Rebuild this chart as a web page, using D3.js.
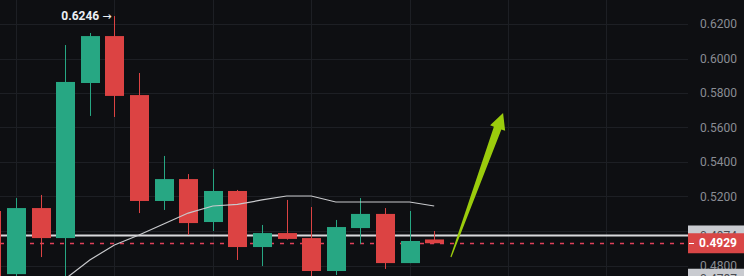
<!DOCTYPE html>
<html>
<head>
<meta charset="utf-8">
<script src="https://cdn.jsdelivr.net/npm/d3@7"></script>
<style>
  html, body { margin: 0; padding: 0; background: #0e0f12; overflow: hidden; }
  text { font-family: Roboto, "Noto Sans", sans-serif; }
</style>
</head>
<body>
<div id="chart"></div>
<script>
// candle data (index 0 is cut off at the left edge)
var idx    = [0, 1, 2, 3, 4, 5, 6, 7, 8, 9, 10, 11, 12, 13, 14, 15, 16, 17, 18]
var opens  = [0.5116, 0.4750, 0.5133, 0.4959, 0.5858, 0.6130, 0.5788, 0.5174, 0.5301, 0.5052, 0.5232, 0.4907, 0.4988, 0.4959, 0.4768, 0.5017, 0.5099, 0.4814, 0.4951]
var highs  = [0.5120, 0.5191, 0.5209, 0.6078, 0.6148, 0.6246, 0.5916, 0.5435, 0.5330, 0.5359, 0.5238, 0.5035, 0.5180, 0.5139, 0.5064, 0.5191, 0.5133, 0.5116, 0.5000]
var lows   = [0.4650, 0.4700, 0.4849, 0.4700, 0.5667, 0.5661, 0.5104, 0.5122, 0.4977, 0.5000, 0.4832, 0.4797, 0.4950, 0.4700, 0.4745, 0.4925, 0.4780, 0.4814, 0.4929]
var closes = [0.4700, 0.5133, 0.4959, 0.5864, 0.6130, 0.5783, 0.5174, 0.5301, 0.5046, 0.5232, 0.4907, 0.4988, 0.4954, 0.4768, 0.5023, 0.5099, 0.4814, 0.4942, 0.4929]

// moving average line, starting at candle 3
var maIdx    = [3, 4, 5, 6, 7, 8, 9, 10, 11, 12, 13, 14, 15, 16, 17, 18]
var maValues = [0.4722, 0.4832, 0.4919, 0.4977, 0.5041, 0.5104, 0.5145, 0.5154, 0.5180, 0.5203, 0.5203, 0.5168, 0.5168, 0.5168, 0.5168, 0.5145]

var yTicks = [0.62, 0.60, 0.58, 0.56, 0.54, 0.52, 0.50, 0.48]
var xGrid = [1, 5, 9, 13, 17, 21, 25]

var lastPrice = 0.4929
var lineLevel = 0.4974
var lowLabel = 0.4787
var highLabel = 0.6246

// hand-drawn arrow: tail and tip in (index, price)
var arrowTail = [18.68, 0.4849]
var arrowTip = [20.8, 0.5684]

var W = 744, H = 276, plotW = 688

var svg = d3.select("#chart")
  .append("svg")
    .attr("width", W)
    .attr("height", H)

svg.append("rect").attr("width", W).attr("height", H).attr("fill", "#0e0f12")

var x = d3.scaleLinear().domain([0, 28]).range([-8.6, 680.2])
var y = d3.scaleLinear().domain([0.48, 0.62]).range([265.5, 24])

svg.append("clipPath").attr("id", "plot")
  .append("rect").attr("width", plotW).attr("height", H)

var plot = svg.append("g").attr("clip-path", "url(#plot)")

// grid
plot.selectAll(".hg").data(yTicks).enter().append("line")
  .attr("x1", 0).attr("x2", plotW)
  .attr("y1", function(d) { return Math.round(y(d)) + 0.5 })
  .attr("y2", function(d) { return Math.round(y(d)) + 0.5 })
  .attr("stroke", "#1d1f24").attr("stroke-width", 1)
plot.selectAll(".vg").data(xGrid).enter().append("line")
  .attr("y1", 0).attr("y2", H)
  .attr("x1", function(d) { return Math.round(x(d)) + 0.5 })
  .attr("x2", function(d) { return Math.round(x(d)) + 0.5 })
  .attr("stroke", "#1d1f24").attr("stroke-width", 1)

// price lines
plot.append("line")
  .attr("x1", 0).attr("x2", plotW)
  .attr("y1", y(lineLevel)).attr("y2", y(lineLevel))
  .attr("stroke", "#d9d9dc").attr("stroke-width", 2.2)
plot.append("line")
  .attr("x1", 0).attr("x2", plotW)
  .attr("y1", Math.round(y(lastPrice)) + 0.5).attr("y2", Math.round(y(lastPrice)) + 0.5)
  .attr("stroke", "#e0405a").attr("stroke-width", 1.3)
  .attr("stroke-dasharray", "4,6")

var green = "#27a783", red = "#dc4343"
var candles = idx.map(function(d, i) {
  return {i: d, o: opens[i], h: highs[i], l: lows[i], c: closes[i]}
})
var bodyW = 19

var cg = plot.selectAll(".candle").data(candles).enter().append("g")
cg.append("line")
  .attr("x1", function(d) { return Math.round(x(d.i)) + 0.5 })
  .attr("x2", function(d) { return Math.round(x(d.i)) + 0.5 })
  .attr("y1", function(d) { return y(d.h) })
  .attr("y2", function(d) { return y(d.l) })
  .attr("stroke", function(d) { return d.c >= d.o ? green : red })
  .attr("stroke-width", 1)
cg.append("rect")
  .attr("x", function(d) { return Math.round(x(d.i)) - 9 })
  .attr("y", function(d) { return y(Math.max(d.o, d.c)) })
  .attr("width", bodyW)
  .attr("height", function(d) { return Math.max(1, Math.abs(y(d.o) - y(d.c))) })
  .attr("fill", function(d) { return d.c >= d.o ? green : red })

// moving average
var ma = maIdx.map(function(d, i) { return [d, maValues[i]] })
plot.append("path")
  .datum(ma)
  .attr("d", d3.line().x(function(d) { return x(d[0]) }).y(function(d) { return y(d[1]) }))
  .attr("fill", "none")
  .attr("stroke", "#c8c9cc")
  .attr("stroke-width", 1.2)

// green arrow
var p0 = [x(arrowTail[0]), y(arrowTail[1])], p1 = [x(arrowTip[0]), y(arrowTip[1])]
var dx = p1[0] - p0[0], dy = p1[1] - p0[1], len = Math.sqrt(dx * dx + dy * dy)
var ux = dx / len, uy = dy / len, nx = -uy, ny = ux
var headL = 16, headW = 8, shaftW = 4, tailW = 0.6
var hb = [p1[0] - ux * headL, p1[1] - uy * headL]
function pt(p, s) { return [p[0] + nx * s, p[1] + ny * s] }
var arrowPts = [
  pt(p0, -tailW), pt(hb, -shaftW), pt(hb, -headW), p1,
  pt(hb, headW), pt(hb, shaftW), pt(p0, tailW)
]
plot.append("path")
  .attr("d", d3.line()(arrowPts) + "Z")
  .attr("fill", "#9bcc0c")

// high annotation
var hl = plot.append("text")
  .attr("x", x(5) - 3)
  .attr("y", y(highLabel) + 4)
  .attr("text-anchor", "end")
  .attr("fill", "#eceef2")
  .style("font-size", "12px")
  .style("font-weight", "bold")
hl.append("tspan").text(highLabel.toFixed(4) + " ")
hl.append("tspan")
  .style("font-family", "'DejaVu Sans', sans-serif")
  .style("font-weight", "normal")
  .style("font-size", "11px")
  .text("\u2192")

// right axis
var axis = svg.append("g")
axis.selectAll("text").data(yTicks).enter().append("text")
  .attr("x", 737)
  .attr("y", function(d) { return y(d) })
  .attr("dy", "0.35em")
  .attr("text-anchor", "end")
  .attr("fill", "#8a8d94")
  .style("font-size", "12px")
  .text(function(d) { return d.toFixed(4) })

function priceBox(v, cy, bg, fg, bold) {
  var g = axis.append("g")
  g.append("rect").attr("x", plotW).attr("y", cy - 10).attr("width", W - plotW).attr("height", 20).attr("fill", bg)
  g.append("text")
    .attr("x", 737).attr("y", cy).attr("dy", "0.35em")
    .attr("text-anchor", "end")
    .attr("fill", fg)
    .style("font-size", "12px")
    .style("font-weight", bold ? "bold" : "normal")
    .text(v.toFixed(4))
  return g
}
priceBox(lineLevel, y(lineLevel), "#c9cbd0", "#4a4c52", false)
priceBox(lowLabel, y(lowLabel) + 11, "#c9cbd0", "#4a4c52", false)
var rb = priceBox(lastPrice, y(lastPrice), "#d94646", "#ffffff", true)
rb.append("line")
  .attr("x1", plotW + 1).attr("x2", plotW + 6)
  .attr("y1", Math.round(y(lastPrice)) + 0.5).attr("y2", Math.round(y(lastPrice)) + 0.5)
  .attr("stroke", "#ffffff").attr("stroke-width", 1)
</script>
</body>
</html>
